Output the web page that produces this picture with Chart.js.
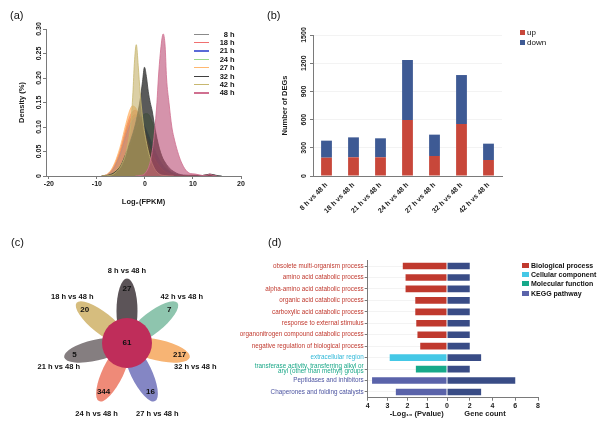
<!DOCTYPE html>
<html><head><meta charset="utf-8">
<script src="https://cdn.jsdelivr.net/npm/chart.js@4.4.1/dist/chart.umd.min.js"></script>
<style>
html,body{margin:0;padding:0;background:#fff;width:600px;height:429px;overflow:hidden;font-family:'Liberation Sans',Arial,Helvetica,sans-serif;}
canvas{position:absolute;}
.plab{position:absolute;font-size:11px;color:#111;line-height:13px;}
.leg{position:absolute;color:#111;}
.leg .row{display:flex;align-items:center;white-space:nowrap;}
</style></head>
<body>
<canvas id="ca" width="262" height="215" style="left:0;top:0"></canvas>
<canvas id="cb" width="338" height="215" style="left:262px;top:0"></canvas>
<canvas id="cc" width="254" height="214" style="left:0;top:215px"></canvas>
<canvas id="cd1" width="225" height="214" style="left:230px;top:215px"></canvas>
<canvas id="cd2" width="160" height="214" style="left:440px;top:215px"></canvas>
<div class="plab" style="left:10px;top:9px">(a)</div>
<div class="plab" style="left:267px;top:9px">(b)</div>
<div class="plab" style="left:11px;top:236px">(c)</div>
<div class="plab" style="left:268px;top:236px">(d)</div>
<div id="legA" class="leg" style="left:194px;top:30px"></div>
<div id="legB" class="leg" style="left:520px;top:27px"></div>
<div id="legD" class="leg" style="left:522px;top:261px"></div>
<script>
// ---------- Panel (a): density of log2(FPKM) ----------
const densityLabels = ['8 h','18 h','21 h','24 h','27 h','32 h','42 h','48 h'];
const broadGridX = [-9,-8,-7,-6,-5,-4,-3.2,-2.6,-2,-1.5,-1,-0.5,0,0.5,1,1.5,2,3,4,5,6,8,10,12,13.5,15];
const density8h  = [0,0.002,0.010,0.026,0.052,0.088,0.112,0.122,0.125,0.123,0.117,0.108,0.097,0.085,0.072,0.060,0.048,0.030,0.017,0.009,0.004,0.001,0.001,0.001,0.003,0];
const density18h = [0,0.002,0.011,0.030,0.058,0.095,0.120,0.131,0.134,0.130,0.120,0.107,0.093,0.079,0.065,0.052,0.041,0.024,0.013,0.006,0.003,0.001,0.002,0.001,0.003,0];
const density21h = [0,0.002,0.009,0.024,0.048,0.080,0.102,0.113,0.119,0.120,0.117,0.110,0.100,0.089,0.077,0.065,0.053,0.033,0.019,0.010,0.005,0.001,0.001,0,0.002,0];
const density24h = [0,0.001,0.004,0.011,0.024,0.043,0.062,0.077,0.092,0.104,0.114,0.122,0.127,0.127,0.122,0.110,0.093,0.056,0.028,0.012,0.005,0.001,0.001,0,0.002,0];
const density27h = [0,0.003,0.013,0.034,0.065,0.105,0.133,0.143,0.140,0.131,0.118,0.102,0.086,0.071,0.057,0.045,0.035,0.020,0.010,0.005,0.002,0.001,0.001,0,0.002,0];
const density32hX = [-9,-8,-7,-6,-5,-4,-3,-2,-1.5,-1,-0.5,-0.1,0.3,0.7,1.1,1.5,2,2.5,3,3.5,4,5,6,7,8,10,12,13.5,15,16];
const density32h  = [0,0.001,0.004,0.010,0.022,0.045,0.072,0.105,0.128,0.155,0.193,0.222,0.203,0.172,0.150,0.133,0.103,0.077,0.056,0.041,0.031,0.017,0.009,0.004,0.002,0.001,0.001,0.004,0.001,0];
const density42hX = [-9,-7,-6,-5,-4,-3.5,-3,-2.5,-2.2,-1.8,-1.4,-1,-0.5,0,0.5,1,2,3,4,6];
const density42h  = [0,0.002,0.008,0.020,0.045,0.068,0.100,0.170,0.230,0.268,0.225,0.170,0.120,0.085,0.060,0.040,0.015,0.004,0.001,0];
const density48hX = [-2,-1,0,1,1.5,2,2.5,2.8,3.2,3.8,4.2,4.5,5,5.6,6,6.8,7.5,8.5,9.5,10.5,12,13,13.5,14,15];
const density48h  = [0,0.001,0.005,0.025,0.050,0.090,0.150,0.200,0.250,0.290,0.265,0.200,0.150,0.100,0.080,0.050,0.030,0.012,0.005,0.004,0.001,0.002,0.004,0.002,0];

// ---------- Panel (b): DEG numbers ----------
const comparisons = ['8 h vs 48 h','18 h vs 48 h','21 h vs 48 h','24 h vs 48 h','27 h vs 48 h','32 h vs 48 h','42 h vs 48 h'];
const upDEGs   = [195,199,199,596,213,553,170];
const downDEGs = [181,212,202,638,227,521,174];

// ---------- Panel (c): flower Venn ----------
const petalSets   = ['8 h vs 48 h','42 h vs 48 h','32 h vs 48 h','27 h vs 48 h','24 h vs 48 h','21 h vs 48 h','18 h vs 48 h'];
const petalCounts = [27,7,217,16,344,5,20];
const coreCount = 61;

// ---------- Panel (d): enrichment ----------
const goTerms = ['obsolete multi-organism process','amino acid catabolic process','alpha-amino acid catabolic process',
  'organic acid catabolic process','carboxylic acid catabolic process','response to external stimulus',
  'organonitrogen compound catabolic process','negative regulation of biological process','extracellular region',
  ['transferase activity, transferring alkyl or','aryl (other than methyl) groups'],'Peptidases and inhibitors','Chaperones and folding catalysts'];
const termClass = ['BP','BP','BP','BP','BP','BP','BP','BP','CC','MF','KEGG','KEGG'];
const negLog10P = [2.23,2.09,2.09,1.60,1.60,1.55,1.49,1.35,2.89,1.57,3.78,2.58];
const geneCount = [2,2,2,2,2,2,2,2,3,2,6,3];
const classNames = {BP:'Biological process',CC:'Cellular component',MF:'Molecular function',KEGG:'KEGG pathway'};

// ---------- styles ----------
const FONT = "'Liberation Sans', Arial, Helvetica, sans-serif";
Chart.defaults.font.family = FONT;
Chart.defaults.color = '#1a1a1a';
const common = {animation:false, responsive:false, devicePixelRatio:1, events:[],
  plugins:{legend:{display:false}, tooltip:{enabled:false}}};
const AX = '#7a7a7a';

const densityStyle = [
  {line:'#8a8a8a', fill:'rgba(128,128,128,0.55)'},
  {line:'#f07070', fill:'rgba(230,90,90,0.55)'},
  {line:'#5a6ad8', fill:'rgba(80,95,200,0.45)'},
  {line:'#9ad88a', fill:'rgba(130,200,110,0.50)'},
  {line:'#ffb870', fill:'rgba(255,165,75,0.60)'},
  {line:'#404040', fill:'rgba(35,35,35,0.75)'},
  {line:'#c8b870', fill:'rgba(195,175,105,0.60)'},
  {line:'#d07090', fill:'rgba(185,75,115,0.60)'}
];
const densityX = [broadGridX,broadGridX,broadGridX,broadGridX,broadGridX,density32hX,density42hX,density48hX];
const densityY = [density8h,density18h,density21h,density24h,density27h,density32h,density42h,density48h];

new Chart(document.getElementById('ca'), {
  type:'line',
  data:{datasets: densityLabels.map((lab,i)=>({
    label:lab, data: densityX[i].map((x,k)=>({x:x, y:densityY[i][k]})),
    borderColor:densityStyle[i].line, backgroundColor:densityStyle[i].fill, borderWidth:0.8,
    fill:'origin', pointRadius:0, cubicInterpolationMode:'monotone', order: densityLabels.length - i
  }))},
  options:{...common,
    layout:{padding:{left:0,right:21,top:29,bottom:0}},
    scales:{
      x:{type:'linear', min:-20.6, max:20, afterFit:s=>{s.height=39;},
        ticks:{stepSize:10, includeBounds:false, maxRotation:0, font:{size:7,weight:'bold'}, padding:1},
        grid:{drawOnChartArea:false, tickLength:3, color:AX}, border:{color:AX},
        title:{display:true, text:'Log₂(FPKM)', font:{size:7.5,weight:'bold'}, padding:{top:0,bottom:8.5}}},
      y:{min:0, max:0.3, afterFit:s=>{s.width=46;},
        ticks:{stepSize:0.05, minRotation:90, maxRotation:90, crossAlign:'center', padding:-3,
          font:{size:7,weight:'bold'}, callback:v=> v===0 ? '0' : v.toFixed(2)},
        grid:{drawOnChartArea:false, tickLength:3, color:AX}, border:{color:AX},
        title:{display:true, text:'Density (%)', font:{size:7.5,weight:'bold'}, padding:{top:17.5,bottom:0}}}
    }
  }
});

// legend (a)
const legA = document.getElementById('legA');
densityLabels.forEach((lab,i)=>{
  const r = document.createElement('div'); r.className='row';
  r.style.height='8.4px'; r.style.fontSize='7.5px'; r.style.fontWeight='bold';
  r.innerHTML = '<span style="display:inline-block;width:15px;height:1.3px;background:'+densityStyle[i].line+';margin-right:5px"></span>'+
    '<span style="display:inline-block;width:14px;text-align:right">'+lab.replace(' h','')+'</span>&nbsp;h';
  legA.appendChild(r);
});

// ---------- Panel (b) ----------
const upColor = '#c8473a', downColor = '#3e5a94';
new Chart(document.getElementById('cb'), {
  type:'bar',
  data:{labels:comparisons, datasets:[
    {label:'up', data:upDEGs, backgroundColor:upColor},
    {label:'down', data:downDEGs, backgroundColor:downColor}
  ]},
  options:{...common,
    layout:{padding:{left:0,right:98,top:35,bottom:0}},
    datasets:{bar:{barPercentage:0.5, categoryPercentage:0.8}},
    scales:{
      x:{stacked:true, afterFit:s=>{s.height=39;},
        ticks:{minRotation:45, maxRotation:45, autoSkip:false, font:{size:7,weight:'bold'}, padding:-3},
        grid:{display:false}, border:{color:AX}},
      y:{stacked:true, min:0, max:1500, afterFit:s=>{s.width=51;},
        ticks:{stepSize:300, minRotation:90, maxRotation:90, crossAlign:'center', padding:-2, font:{size:7,weight:'bold'}, callback:v=>String(v)},
        grid:{color:'#f3f3f3', tickLength:3, tickColor:AX}, border:{color:AX},
        title:{display:true, text:'Number of DEGs', font:{size:7.5,weight:'bold'}, padding:{top:18.5,bottom:0}}}
    }
  }
});
const legB = document.getElementById('legB');
[['up',upColor],['down',downColor]].forEach(([t,c])=>{
  const r = document.createElement('div'); r.className='row';
  r.style.height='10px'; r.style.fontSize='8px';
  r.innerHTML = '<span style="display:inline-block;width:5px;height:5px;background:'+c+';margin-right:2px"></span>'+t;
  legB.appendChild(r);
});

// ---------- Panel (c) ----------
const petalColors = ['#5c5458','#8ec5ae','#f7b474','#8486c4','#ef8a78','#857e80','#d6bd7e'];
const flower = {
  id:'flower',
  beforeDatasetsDraw(chart){
    const {ctx, scales:{x,y}} = chart;
    const cx = x.getPixelForValue(0);
    const n = petalSets.length;
    petalSets.forEach((nm,i)=>{
      const th = (90 - i*360/n)*Math.PI/180;
      const px = x.getPixelForValue(32*Math.cos(th)), py = y.getPixelForValue(32*Math.sin(th));
      const rx = x.getPixelForValue(32.5)-cx, ry = x.getPixelForValue(10.5)-cx;
      ctx.save(); ctx.fillStyle = petalColors[i];
      ctx.beginPath(); ctx.ellipse(px,py,rx,ry,-th,0,Math.PI*2); ctx.fill(); ctx.restore();
    });
  },
  afterDatasetsDraw(chart){
    const {ctx, scales:{x,y}} = chart;
    const n = petalSets.length;
    ctx.save(); ctx.fillStyle='#111'; ctx.textAlign='center'; ctx.textBaseline='middle';
    petalSets.forEach((nm,i)=>{
      const th = (90 - i*360/n)*Math.PI/180;
      ctx.font = 'bold 8px '+FONT;
      ctx.fillText(String(petalCounts[i]), x.getPixelForValue(54*Math.cos(th)), y.getPixelForValue(54*Math.sin(th)));
      const dy = Math.sin(th) > 0 ? 2 : -8;
      ctx.font = 'bold 7.5px '+FONT;
      ctx.fillText(nm, x.getPixelForValue(70*Math.cos(th)), y.getPixelForValue(70*Math.sin(th)+dy));
    });
    ctx.font = 'bold 8px '+FONT;
    ctx.fillText(String(coreCount), x.getPixelForValue(0), y.getPixelForValue(0));
    ctx.restore();
  }
};
new Chart(document.getElementById('cc'), {
  type:'bubble',
  data:{datasets:[{data:[{x:0,y:0,r:25}], backgroundColor:'#bf2d5a', borderWidth:0}]},
  options:{...common, layout:{padding:0, autoPadding:false},
    scales:{x:{display:false,min:-127,max:127}, y:{display:false,min:-86,max:128}}},
  plugins:[flower]
});

// ---------- Panel (d) ----------
const classColor = {BP:'#c0392e', CC:'#45c8e6', MF:'#16a98a', KEGG:'#5a63aa'};
const classText  = {BP:'#c0392e', CC:'#30b8d8', MF:'#1ba888', KEGG:'#4a52a0'};
const countColor = '#394c86';
new Chart(document.getElementById('cd1'), {
  type:'bar',
  data:{labels:goTerms, datasets:[{data:negLog10P, backgroundColor:termClass.map(c=>classColor[c]),
    barPercentage:0.58, categoryPercentage:1}]},
  options:{...common, indexAxis:'y',
    layout:{padding:{left:0,right:8,top:45.3,bottom:0}},
    scales:{
      y:{afterFit:s=>{s.width=137.7;},
        ticks:{autoSkip:false, padding:1, font:{size:6.3, lineHeight:0.85}, color:c=>classText[termClass[c.index]]},
        grid:{offset:false, color:'#f3f3f3', tickLength:3, tickColor:AX}, border:{color:AX}},
      x:{min:0, max:4, reverse:true, afterFit:s=>{s.height=31.3;},
        ticks:{stepSize:1, font:{size:7,weight:'bold'}, padding:1},
        grid:{drawOnChartArea:false, tickLength:3, color:AX}, border:{color:AX},
        title:{display:true, text:'\u2002\u2002\u2002\u2002\u2002-Log₁₀ (Pvalue)', font:{size:7.5,weight:'bold'}, padding:{top:0,bottom:10.8}}}
    }
  }
});
new Chart(document.getElementById('cd2'), {
  type:'bar',
  data:{labels:goTerms, datasets:[{data:geneCount, backgroundColor:countColor, barPercentage:0.58, categoryPercentage:1}]},
  options:{...common, indexAxis:'y',
    layout:{padding:{left:7,right:62,top:45.3,bottom:0}},
    scales:{
      y:{display:false},
      x:{min:0, max:8, afterFit:s=>{s.height=31.3;},
        ticks:{stepSize:2, font:{size:7,weight:'bold'}, padding:1, callback:v=> v===0 ? '' : v},
        grid:{drawOnChartArea:false, tickLength:3, color:AX}, border:{color:AX},
        title:{display:true, text:'Gene count\u2002\u2002\u2002\u2002', font:{size:7.5,weight:'bold'}, padding:{top:0,bottom:10.8}}}
    }
  }
});
const legD = document.getElementById('legD');
['BP','CC','MF','KEGG'].forEach(k=>{
  const r = document.createElement('div'); r.className='row';
  r.style.height='9.2px'; r.style.fontSize='7px'; r.style.fontWeight='bold';
  r.innerHTML = '<span style="display:inline-block;width:7px;height:5px;background:'+classColor[k]+';margin-right:2px"></span>'+classNames[k];
  legD.appendChild(r);
});
</script>
</body></html>
